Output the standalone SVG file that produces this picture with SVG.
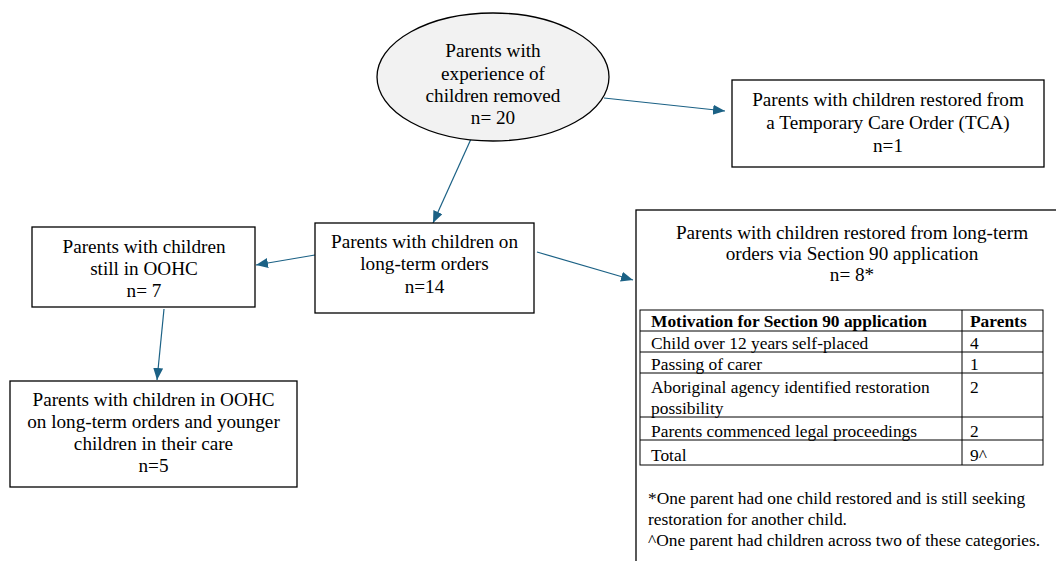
<svg xmlns="http://www.w3.org/2000/svg" width="1056" height="561" viewBox="0 0 1056 561">
<defs>
<style>
text{font-family:"Liberation Serif","Times New Roman",serif;fill:#000}
.t{font-size:19.2px;text-anchor:middle}
.s{font-size:17.4px}
.b{font-weight:bold}
.box{fill:#fff;stroke:#000;stroke-width:1.3}
.ln{fill:none;stroke:#000;stroke-width:1}
.c{fill:none;stroke:#1b6185;stroke-width:1.2;marker-end:url(#ah)}
</style>
<marker id="ah" markerUnits="userSpaceOnUse" markerWidth="13" markerHeight="11" refX="12" refY="5" orient="auto" viewBox="0 0 13 11">
<path d="M0,0 L12,5 L0,10 z" fill="#1b6185"/>
</marker>
</defs>
<rect width="1056" height="561" fill="#fff"/>
<g id="connectors">
<line class="c" x1="604" y1="98" x2="725" y2="111"/>
<line class="c" x1="471" y1="139" x2="433" y2="223"/>
<line class="c" x1="537" y1="252" x2="633" y2="280"/>
<line class="c" x1="315" y1="255" x2="256" y2="265"/>
<line class="c" x1="164" y1="309" x2="157" y2="380"/>
</g>
<g id="root">
<ellipse cx="493" cy="77" rx="116" ry="64" fill="#f2f2f2" stroke="#000" stroke-width="1.3"/>
<text class="t" x="493" y="57">Parents with</text>
<text class="t" x="493" y="80">experience of</text>
<text class="t" x="493" y="102">children removed</text>
<text class="t" x="493" y="124">n= 20</text>
</g>
<g id="tca">
<rect class="box" x="732" y="80" width="312" height="87"/>
<text class="t" x="888" y="106">Parents with children restored from</text>
<text class="t" x="888" y="129">a Temporary Care Order (TCA)</text>
<text class="t" x="888" y="152">n=1</text>
</g>
<g id="longterm">
<rect class="box" x="315" y="223" width="219" height="90"/>
<text class="t" x="424.5" y="248">Parents with children on</text>
<text class="t" x="424.5" y="270">long-term orders</text>
<text class="t" x="424.5" y="293">n=14</text>
</g>
<g id="oohc">
<rect class="box" x="32" y="227" width="223" height="80"/>
<text class="t" x="144" y="253">Parents with children</text>
<text class="t" x="144" y="275">still in OOHC</text>
<text class="t" x="144" y="297">n= 7</text>
</g>
<g id="younger">
<rect class="box" x="10" y="381" width="287" height="106"/>
<text class="t" x="153.5" y="406">Parents with children in OOHC</text>
<text class="t" x="153.5" y="428">on long-term orders and younger</text>
<text class="t" x="153.5" y="450">children in their care</text>
<text class="t" x="153.5" y="472">n=5</text>
</g>
<g id="section90">
<rect class="box" x="636" y="210" width="440" height="380"/>
<text class="t" x="852" y="239">Parents with children restored from long-term</text>
<text class="t" x="852" y="260">orders via Section 90 application</text>
<text class="t" x="852" y="281">n= 8*</text>
<rect class="ln" x="640" y="310" width="403" height="155"/>
<line class="ln" x1="962" y1="310" x2="962" y2="465"/>
<line class="ln" x1="640" y1="331" x2="1043" y2="331"/>
<line class="ln" x1="640" y1="352" x2="1043" y2="352"/>
<line class="ln" x1="640" y1="373" x2="1043" y2="373"/>
<line class="ln" x1="640" y1="417" x2="1043" y2="417"/>
<line class="ln" x1="640" y1="440" x2="1043" y2="440"/>
<text class="s b" x="651" y="327">Motivation for Section 90 application</text>
<text class="s b" x="970" y="327">Parents</text>
<text class="s" x="651" y="349">Child over 12 years self-placed</text>
<text class="s" x="970" y="349">4</text>
<text class="s" x="651" y="370">Passing of carer</text>
<text class="s" x="970" y="370">1</text>
<text class="s" x="651" y="393">Aboriginal agency identified restoration</text>
<text class="s" x="651" y="414">possibility</text>
<text class="s" x="970" y="393">2</text>
<text class="s" x="651" y="437">Parents commenced legal proceedings</text>
<text class="s" x="970" y="437">2</text>
<text class="s" x="651" y="461">Total</text>
<text class="s" x="970" y="461">9^</text>
<text class="s" x="648" y="504">*One parent had one child restored and is still seeking</text>
<text class="s" x="648" y="525">restoration for another child.</text>
<text class="s" x="648" y="546">^One parent had children across two of these categories.</text>
</g>
</svg>
